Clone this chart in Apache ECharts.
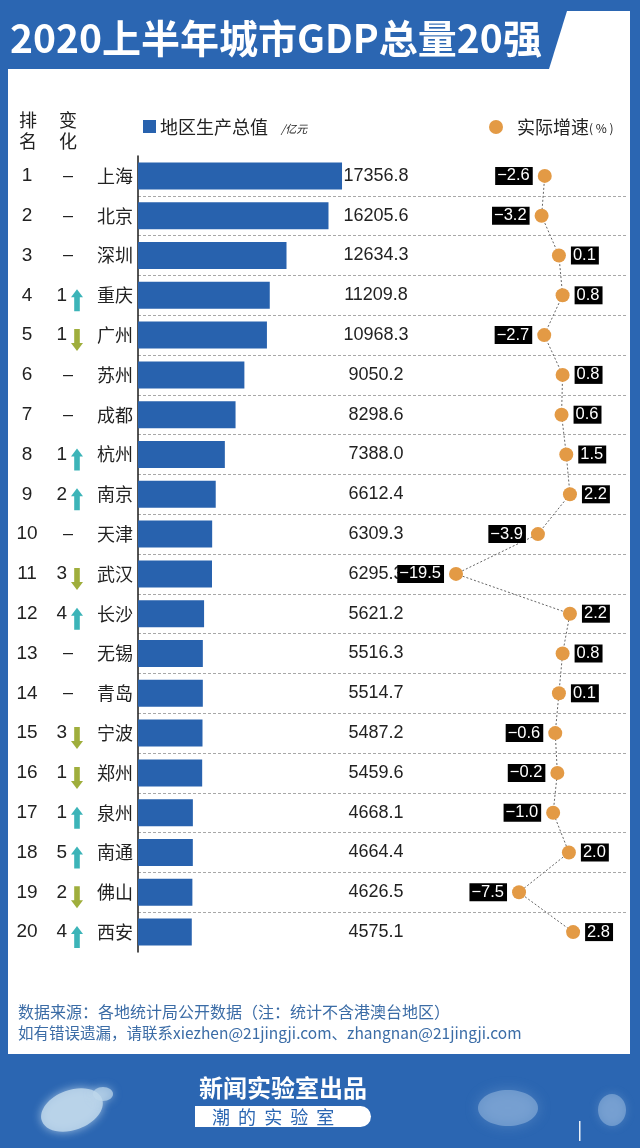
<!DOCTYPE html>
<html>
<head>
<meta charset="utf-8">
<script src="https://cdn.jsdelivr.net/npm/echarts@6/dist/echarts.min.js"></script>
<style>
html,body{margin:0;padding:0;background:#fff;}
#chart{width:640px;height:1148px;}
</style>
</head>
<body>
<div id="chart"></div>
<script>
// ---- data ----
const ranks = ['1','2','3','4','5','6','7','8','9','10','11','12','13','14','15','16','17','18','19','20'];
const cities = ['上海','北京','深圳','重庆','广州','苏州','成都','杭州','南京','天津','武汉','长沙','无锡','青岛','宁波','郑州','泉州','南通','佛山','西安'];
const gdp = [17356.8,16205.6,12634.3,11209.8,10968.3,9050.2,8298.6,7388.0,6612.4,6309.3,6295.3,5621.2,5516.3,5514.7,5487.2,5459.6,4668.1,4664.4,4626.5,4575.1];
const growth = [-2.6,-3.2,0.1,0.8,-2.7,0.8,0.6,1.5,2.2,-3.9,-19.5,2.2,0.8,0.1,-0.6,-0.2,-1.0,2.0,-7.5,2.8];
// positive = moved up, negative = moved down, 0 = unchanged
const rankChange = [0,0,0,1,-1,0,0,1,2,0,-3,4,0,0,-3,-1,1,5,-2,4];

const title = '2020上半年城市GDP总量20强';
const sourceLine1 = '数据来源：各地统计局公开数据（注：统计不含港澳台地区）';
const sourceLine2 = '如有错误遗漏，请联系xiezhen@21jingji.com、zhangnan@21jingji.com';

// ---- styles ----
const BLUE = '#2b66b2';
const BAR = '#2862ae';
const ORANGE = '#e39a45';
const UP = '#3cb4b8';
const DOWN = '#9fae3c';
const CJK = '"Noto Sans CJK SC", sans-serif';
const NUM = '"Liberation Sans", Arial, sans-serif';

const chart = echarts.init(document.getElementById('chart'), null, {renderer: 'canvas'});

const catAxis = (extra) => Object.assign({
  type: 'category', data: cities, inverse: true, gridIndex: 0, position: 'left', offset: 0,
  axisTick: {show: false}, axisLine: {show: false}, splitLine: {show: false}
}, extra);

const growthData = growth.map((g, i) => ({
  value: [g, i],
  label: {position: g < 0 ? 'left' : 'right'}
}));

const option = {
  animation: false,
  backgroundColor: BLUE,
  grid: [
    {left: 138, top: 156, width: 489, height: 796, outerBoundsMode: 'none', containLabel: false},
    {left: 453.4, top: 156, width: 126, height: 796, outerBoundsMode: 'none', containLabel: false}
  ],
  xAxis: [
    {type: 'value', gridIndex: 0, min: 0, max: 41600, show: false},
    {type: 'value', gridIndex: 1, min: -20, max: 4, show: false}
  ],
  yAxis: [
    catAxis({
      axisLine: {show: true, lineStyle: {color: '#1a1a1a', width: 1.5}},
      axisLabel: {margin: 5, fontSize: 18, color: '#222', fontFamily: CJK},
      splitLine: {show: true, showMinLine: false, showMaxLine: false,
        lineStyle: {color: '#a8a8a8', type: [3, 2], width: 1}}
    }),
    catAxis({
      axisLabel: {margin: 111, align: 'center', fontSize: 19, color: '#222', fontFamily: NUM,
        formatter: (v, i) => ranks[i]}
    }),
    catAxis({
      axisLabel: {margin: 71, align: 'right', fontSize: 19, color: '#222', fontFamily: NUM,
        formatter: (v, i) => rankChange[i] === 0 ? '' : String(Math.abs(rankChange[i]))}
    }),
    catAxis({
      axisLabel: {margin: 70, align: 'center', fontSize: 18, color: '#222', fontFamily: NUM,
        formatter: (v, i) => rankChange[i] === 0 ? '–' : ''}
    }),
    catAxis({
      axisLabel: {margin: -238, align: 'center', fontSize: 18, color: '#222', fontFamily: NUM,
        formatter: (v, i) => gdp[i].toFixed(1)}
    }),
    {type: 'category', data: cities, inverse: true, gridIndex: 1, show: false}
  ],
  series: [
    {
      type: 'bar', xAxisIndex: 0, yAxisIndex: 0,
      data: gdp, barWidth: 27,
      itemStyle: {color: BAR}
    },
    {
      type: 'custom', xAxisIndex: 0, yAxisIndex: 0,
      data: rankChange.map((c, i) => [0, i, c]),
      renderItem: function (params, api) {
        const c = api.value(2);
        if (c === 0) return null;
        const p = api.coord([0, api.value(1)]);
        const cx = p[0] - 61, cy = p[1] + 5;
        const h = 11, hw = 6, sw = 2.8, hh = 8;
        let pts;
        if (c > 0) {
          pts = [[cx, cy - h], [cx + hw, cy - h + hh], [cx + sw, cy - h + hh], [cx + sw, cy + h],
                 [cx - sw, cy + h], [cx - sw, cy - h + hh], [cx - hw, cy - h + hh]];
        } else {
          pts = [[cx, cy + h], [cx + hw, cy + h - hh], [cx + sw, cy + h - hh], [cx + sw, cy - h],
                 [cx - sw, cy - h], [cx - sw, cy + h - hh], [cx - hw, cy + h - hh]];
        }
        return {type: 'polygon', shape: {points: pts}, style: {fill: c > 0 ? UP : DOWN}};
      }
    },
    {
      type: 'line', xAxisIndex: 1, yAxisIndex: 5,
      data: growthData,
      symbol: 'circle', symbolSize: 14,
      itemStyle: {color: ORANGE},
      lineStyle: {color: '#666', width: 1, type: [2, 2]},
      label: {
        show: true, distance: 5,
        formatter: (p) => p.value[0].toFixed(1).replace('-', '−'),
        backgroundColor: '#000', color: '#fff', fontSize: 16.5, fontFamily: NUM,
        padding: [1, 3, 0, 2], lineHeight: 17
      },
      z: 5
    }
  ],
  graphic: [
    // white panel
    {type: 'rect', shape: {x: 8, y: 11, width: 622, height: 1043}, style: {fill: '#fff'}, z: -10, silent: true},
    // title banner
    {type: 'polygon', shape: {points: [[8, 11], [567, 11], [549, 69], [8, 69]]}, style: {fill: BLUE}, z: -9},
    {type: 'text', x: 10, y: 38, style: {text: title, fill: '#fff', font: 'bold 39px ' + CJK, textVerticalAlign: 'middle'}},
    // column headers
    {type: 'text', x: 28, y: 120, style: {text: '排', fill: '#222', font: '18px ' + CJK, textAlign: 'center', textVerticalAlign: 'middle'}},
    {type: 'text', x: 28, y: 141, style: {text: '名', fill: '#222', font: '18px ' + CJK, textAlign: 'center', textVerticalAlign: 'middle'}},
    {type: 'text', x: 68, y: 120, style: {text: '变', fill: '#222', font: '18px ' + CJK, textAlign: 'center', textVerticalAlign: 'middle'}},
    {type: 'text', x: 68, y: 141, style: {text: '化', fill: '#222', font: '18px ' + CJK, textAlign: 'center', textVerticalAlign: 'middle'}},
    // legend
    {type: 'rect', shape: {x: 143, y: 120, width: 13, height: 13}, style: {fill: BAR}},
    {type: 'text', x: 160, y: 127, style: {text: '地区生产总值', fill: '#222', font: '18px ' + CJK, textVerticalAlign: 'middle'}},
    {type: 'text', x: 281, y: 129, style: {text: '/亿元', fill: '#222', font: 'italic 11px ' + CJK, textVerticalAlign: 'middle'}},
    {type: 'circle', shape: {cx: 496, cy: 127, r: 7}, style: {fill: ORANGE}},
    {type: 'text', x: 517, y: 127, style: {text: '实际增速', fill: '#222', font: '18px ' + CJK, textVerticalAlign: 'middle'}},
    {type: 'text', x: 589, y: 128, style: {text: '( % )', fill: '#222', font: '12px ' + CJK, textVerticalAlign: 'middle'}},
    // source notes
    {type: 'text', x: 18, y: 1012, style: {text: sourceLine1, fill: '#3b6ca6', font: '16px ' + CJK, textVerticalAlign: 'middle'}},
    {type: 'text', x: 18, y: 1033, style: {text: sourceLine2, fill: '#3b6ca6', font: '15.5px ' + CJK, textVerticalAlign: 'middle'}},
    // footer decorations
    {type: 'ellipse', shape: {cx: 72, cy: 1110, rx: 32, ry: 20}, style: {fill: 'rgba(190,215,235,0.85)', shadowBlur: 10, shadowColor: 'rgba(190,215,235,0.9)'}, rotation: 0.35, originX: 72, originY: 1110},
    {type: 'ellipse', shape: {cx: 103, cy: 1094, rx: 10, ry: 7}, style: {fill: 'rgba(190,215,235,0.7)', shadowBlur: 8, shadowColor: 'rgba(190,215,235,0.8)'}},
    {type: 'ellipse', shape: {cx: 508, cy: 1108, rx: 30, ry: 18}, style: {fill: 'rgba(170,200,230,0.45)', shadowBlur: 14, shadowColor: 'rgba(170,200,230,0.6)'}},
    {type: 'ellipse', shape: {cx: 612, cy: 1110, rx: 14, ry: 16}, style: {fill: 'rgba(170,200,230,0.45)', shadowBlur: 10, shadowColor: 'rgba(170,200,230,0.6)'}},
    {type: 'rect', shape: {x: 579, y: 1121, width: 1.5, height: 20}, style: {fill: 'rgba(255,255,255,0.9)'}},
    {type: 'text', x: 283, y: 1088, style: {text: '新闻实验室出品', fill: '#fff', font: 'bold 24px ' + CJK, textAlign: 'center', textVerticalAlign: 'middle'}},
    {type: 'rect', shape: {x: 195, y: 1106, width: 176, height: 21, r: [0, 11, 11, 0]}, style: {fill: '#fff'}},
    {type: 'text', x: 212, y: 1117, style: {text: '潮  的  实  验  室', fill: '#2b66b2', font: '18px ' + CJK, textVerticalAlign: 'middle'}}
  ]
};
chart.setOption(option);
</script>
</body>
</html>
